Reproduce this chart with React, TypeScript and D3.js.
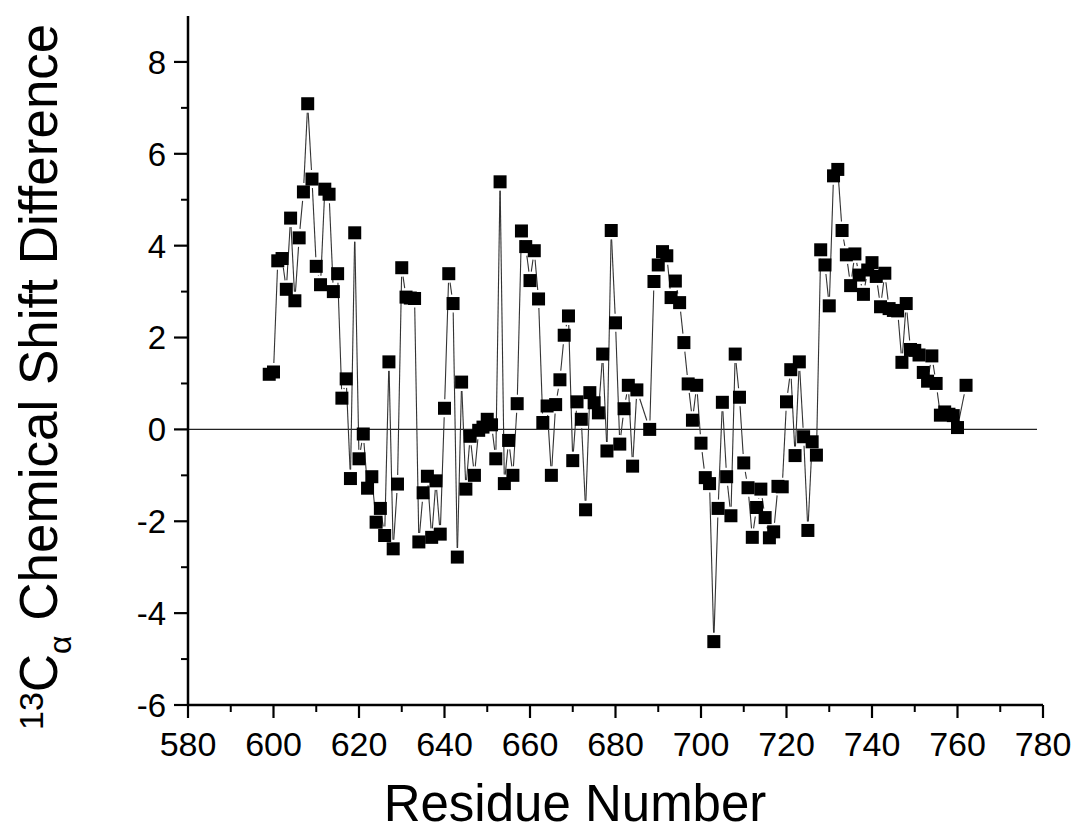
import React from "react";
import * as d3 from "d3";

const residues: number[] = [
  599, 600, 601, 602, 603, 604, 605, 606, 607, 608, 609, 610, 611, 612, 613, 614, 615, 616, 617, 618,
  619, 620, 621, 622, 623, 624, 625, 626, 627, 628, 629, 630, 631, 632, 633, 634, 635, 636, 637, 638,
  639, 640, 641, 642, 643, 644, 645, 646, 647, 648, 649, 650, 651, 652, 653, 654, 655, 656, 657, 658,
  659, 660, 661, 662, 663, 664, 665, 666, 667, 668, 669, 670, 671, 672, 673, 674, 675, 676, 677, 678,
  679, 680, 681, 682, 683, 684, 685, 688, 689, 690, 691, 692, 693, 694, 695, 696, 697, 698, 699, 700,
  701, 702, 703, 704, 705, 706, 707, 708, 709, 710, 711, 712, 713, 714, 715, 716, 717, 718, 719, 720,
  721, 722, 723, 724, 725, 726, 727, 728, 729, 730, 731, 732, 733, 734, 735, 736, 737, 738, 739, 740,
  741, 742, 743, 744, 745, 746, 747, 748, 749, 750, 751, 752, 753, 754, 755, 756, 757, 758, 759, 760,
  762,
];

const shiftDiff: number[] = [
  1.2, 1.25, 3.67, 3.72, 3.05, 4.6, 2.8, 4.17, 5.17, 7.09, 5.45, 3.55, 3.15, 5.23, 5.12, 3.0, 3.39, 0.68, 1.1, -1.07,
  4.28, -0.64, -0.1, -1.28, -1.03, -2.02, -1.72, -2.31, 1.47, -2.6, -1.19, 3.52, 2.88, 2.86, 2.85, -2.45, -1.38, -1.02, -2.35, -1.12,
  -2.28, 0.46, 3.39, 2.74, -2.78, 1.03, -1.3, -0.15, -1.0, -0.02, 0.05, 0.22, 0.1, -0.64, 5.39, -1.18, -0.24, -1.0, 0.56, 4.32,
  3.98, 3.24, 3.89, 2.84, 0.15, 0.51, -1.0, 0.54, 1.08, 2.05, 2.47, -0.68, 0.6, 0.22, -1.75, 0.8, 0.58, 0.36, 1.64, -0.47,
  4.33, 2.32, -0.32, 0.45, 0.96, -0.8, 0.86, 0.0, 3.22, 3.58, 3.87, 3.78, 2.87, 3.23, 2.76, 1.89, 0.99, 0.2, 0.96, -0.3,
  -1.05, -1.18, -4.62, -1.72, 0.59, -1.03, -1.88, 1.64, 0.7, -0.73, -1.27, -2.35, -1.7, -1.3, -1.92, -2.36, -2.23, -1.24, -1.25, 0.6,
  1.3, -0.57, 1.47, -0.16, -2.2, -0.27, -0.56, 3.91, 3.58, 2.69, 5.52, 5.66, 4.33, 3.8, 3.13, 3.82, 3.36, 2.94, 3.47, 3.63,
  3.33, 2.67, 3.4, 2.63, 2.59, 2.58, 1.46, 2.74, 1.74, 1.72, 1.62, 1.24, 1.05, 1.6, 1.0, 0.31, 0.38, 0.33, 0.3, 0.04,
  0.96,
];

const xMajorTicks: number[] = [580, 600, 620, 640, 660, 680, 700, 720, 740, 760, 780];
const xMinorTicks: number[] = [590, 610, 630, 650, 670, 690, 710, 730, 750, 770];
const yMajorTicks: number[] = [-6, -4, -2, 0, 2, 4, 6, 8];
const yMinorTicks: number[] = [-5, -3, -1, 1, 3, 5, 7];

const xTitle = "Residue Number";

export default function App() {
  const W = 1077;
  const H = 832;
  const left = 188;
  const right = 1043;
  const top = 16;
  const bottom = 705;

  const x = d3.scaleLinear().domain([580, 780]).range([left, right]);
  const y = d3.scaleLinear().domain([-6, 9]).range([bottom, top]);

  const pts = residues.map((r, i) => ({ px: x(r), py: y(shiftDiff[i]) }));
  const half = 6.5;
  const gap = 2.5;

  const segs: { x1: number; y1: number; x2: number; y2: number }[] = [];
  for (let i = 0; i < pts.length - 1; i++) {
    const a = pts[i];
    const b = pts[i + 1];
    const dx = b.px - a.px;
    const dy = b.py - a.py;
    const len = Math.hypot(dx, dy);
    if (len === 0) continue;
    const ux = dx / len;
    const uy = dy / len;
    const t = half / Math.max(Math.abs(ux), Math.abs(uy)) + gap;
    if (len <= 2 * t) continue;
    segs.push({
      x1: a.px + ux * t,
      y1: a.py + uy * t,
      x2: b.px - ux * t,
      y2: b.py - uy * t,
    });
  }

  const font = "Arial, 'Liberation Sans', Helvetica, sans-serif";

  return (
    <svg
      width={W}
      height={H}
      style={{ position: "absolute", left: 0, top: 0, background: "#fff" }}
      fontFamily={font}
    >
      <rect x={0} y={0} width={W} height={H} fill="#fff" />

      {/* zero line */}
      <line x1={left} x2={1037} y1={y(0)} y2={y(0)} stroke="#222" strokeWidth={1.4} />

      {/* data line */}
      <g stroke="#333" strokeWidth={1.1} fill="none">
        {segs.map((s, i) => (
          <line key={i} x1={s.x1} y1={s.y1} x2={s.x2} y2={s.y2} />
        ))}
      </g>

      {/* markers */}
      <g fill="#000">
        {pts.map((p, i) => (
          <rect key={i} x={p.px - half} y={p.py - half} width={half * 2} height={half * 2} />
        ))}
      </g>

      {/* axes */}
      <line x1={left} x2={left} y1={top} y2={bottom + 1} stroke="#000" strokeWidth={2.5} />
      <line x1={left - 1} x2={right} y1={bottom} y2={bottom} stroke="#000" strokeWidth={2.5} />

      {/* y ticks */}
      {yMajorTicks.map((t) => (
        <g key={"ym" + t}>
          <line x1={left - 14} x2={left} y1={y(t)} y2={y(t)} stroke="#000" strokeWidth={2.2} />
          <text x={166} y={y(t)} dy="0.36em" textAnchor="end" fontSize={33} fill="#000">
            {t}
          </text>
        </g>
      ))}
      {yMinorTicks.map((t) => (
        <line key={"yn" + t} x1={left - 7} x2={left} y1={y(t)} y2={y(t)} stroke="#000" strokeWidth={2} />
      ))}

      {/* x ticks */}
      {xMajorTicks.map((t) => (
        <g key={"xm" + t}>
          <line x1={x(t)} x2={x(t)} y1={bottom} y2={bottom + 13} stroke="#000" strokeWidth={2.2} />
          <text x={x(t)} y={756} textAnchor="middle" fontSize={34} fill="#000">
            {t}
          </text>
        </g>
      ))}
      {xMinorTicks.map((t) => (
        <line key={"xn" + t} x1={x(t)} x2={x(t)} y1={bottom} y2={bottom + 7} stroke="#000" strokeWidth={2} />
      ))}

      {/* axis titles */}
      <text x={575} y={821} textAnchor="middle" fontSize={51} fill="#000">
        {xTitle}
      </text>
      <text
        transform={`translate(57, 730) rotate(-90)`}
        textAnchor="start"
        fontSize={53}
        fill="#000"
      >
        <tspan fontSize={34} dy={-14}>13</tspan>
        <tspan dy={14}>C</tspan>
        <tspan fontSize={32} dy={14}>α</tspan>
        <tspan dy={-14}>{" Chemical Shift Difference"}</tspan>
      </text>
    </svg>
  );
}
